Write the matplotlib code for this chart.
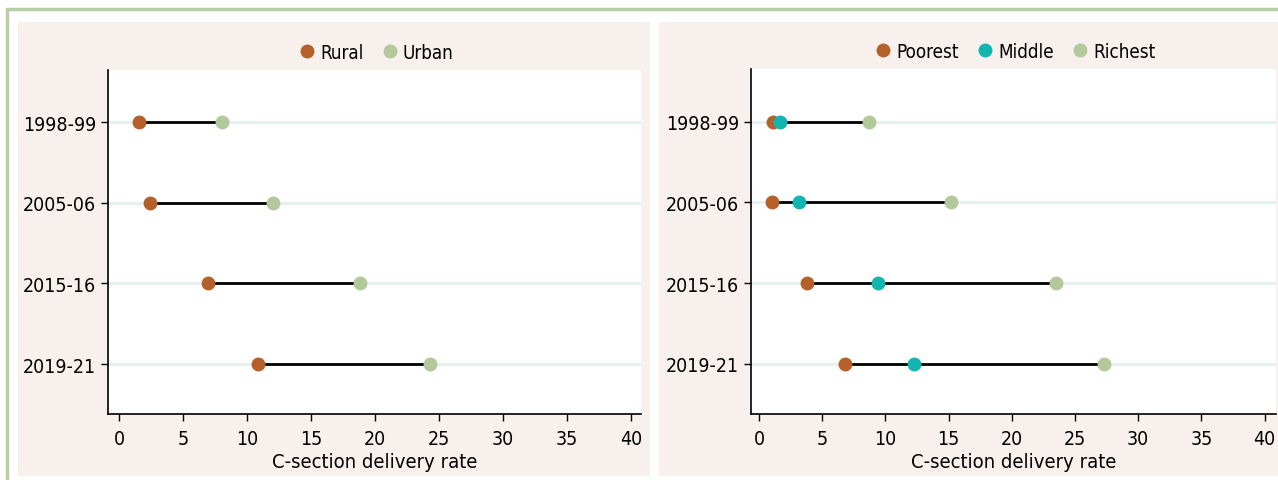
import matplotlib

matplotlib.use("Agg")
import matplotlib.pyplot as plt
from matplotlib.patches import Rectangle
from matplotlib.lines import Line2D

# dados
anos = ["1998-99", "2005-06", "2015-16", "2019-21"]
rural = [1.6, 2.4, 6.95, 10.9]
urbano = [8.05, 12.0, 18.8, 24.3]
mais_pobres = [1.1, 1.0, 3.8, 6.8]
meio = [1.65, 3.15, 9.4, 12.3]
mais_ricos = [8.7, 15.2, 23.5, 27.3]
ticks_x = [0, 5, 10, 15, 20, 25, 30, 35, 40]

COR_MARROM = "#b5602b"
COR_VERDE = "#b1c99b"
COR_TURQUESA = "#13b5b0"
COR_FUNDO = "#f8f0ed"
COR_GRADE = "#e5f0f2"
COR_BORDA = "#b7cfa3"

plt.rcParams["font.family"] = ["DejaVu Sans", "Liberation Sans"]
plt.rcParams["font.stretch"] = "condensed"

fig = plt.figure(figsize=(12.78, 4.81), dpi=100)
fig.patch.set_facecolor("white")

# borda verde e paineis rosados
fig.add_artist(Rectangle((7 / 1278, -0.05), 1.1, 1 - 10 / 481 + 0.05, transform=fig.transFigure,
                         facecolor="none", edgecolor=COR_BORDA, lw=2.5, zorder=0))
for x0, larg in [(18, 632), (659, 625)]:
    fig.add_artist(Rectangle((x0 / 1278, 4 / 481), larg / 1278, 454 / 481, transform=fig.transFigure,
                             facecolor=COR_FUNDO, edgecolor="none", zorder=0))


def montar_eixo(ax, series, xlim):
    pos = list(range(len(anos)))
    for y in pos:
        ax.axhline(y, color=COR_GRADE, lw=2, zorder=1)
    mins = [min(v) for v in zip(*[s for s, _, _ in series])]
    maxs = [max(v) for v in zip(*[s for s, _, _ in series])]
    ax.hlines(pos, mins, maxs, color="black", lw=2, zorder=2)
    handles = []
    for valores, cor, nome in series:
        ax.plot(valores, pos, "o", color=cor, ms=9, zorder=3)
        handles.append(Line2D([], [], marker="o", ls="none", color=cor, ms=9, label=nome))
    ax.set_ylim(3.62, -0.65)
    ax.set_xlim(*xlim)
    ax.set_yticks(pos)
    ax.set_yticklabels(anos)
    ax.set_xticks(ticks_x)
    ax.set_xlabel("C-section delivery rate", fontsize=14.5, labelpad=3)
    ax.tick_params(labelsize=14, length=5, width=1, color="black")
    ax.tick_params(axis="x", pad=6)
    for lado in ["top", "right"]:
        ax.spines[lado].set_visible(False)
    for lado in ["left", "bottom"]:
        ax.spines[lado].set_linewidth(1.2)
    ax.set_facecolor("white")
    ax.legend(handles=handles, loc="lower center", bbox_to_anchor=(0.5, 1.0), ncol=len(handles),
              frameon=False, fontsize=13.5, handletextpad=0.1, columnspacing=0.8, handlelength=1.2,
              borderaxespad=0.05)


ax1 = fig.add_axes([108 / 1278, 1 - 415 / 481, 533 / 1278, 344 / 481])
montar_eixo(ax1, [(rural, COR_MARROM, "Rural"), (urbano, COR_VERDE, "Urban")], (-0.86, 40.8))

ax2 = fig.add_axes([751 / 1278, 1 - 415 / 481, 525 / 1278, 345 / 481])
montar_eixo(ax2, [(mais_pobres, COR_MARROM, "Poorest"), (meio, COR_TURQUESA, "Middle"),
                  (mais_ricos, COR_VERDE, "Richest")], (-0.63, 40.9))

fig.savefig("out.png", dpi=100)
